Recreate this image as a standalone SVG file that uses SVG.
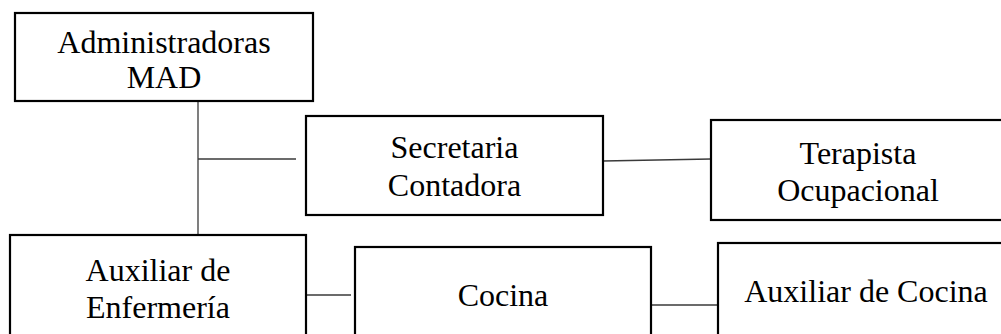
<svg xmlns="http://www.w3.org/2000/svg" width="1001" height="334" viewBox="0 0 1001 334">
<style>
.box{fill:#fff;stroke:#000;stroke-width:2.2}
.t{font-family:"Liberation Serif","Times New Roman",serif;font-size:32px;fill:#000;text-anchor:middle}
.c{stroke:#3a3a3a;stroke-width:1.3;fill:none}
</style>
<rect width="1001" height="334" fill="#fff"/>
<g id="connectors">
<line class="c" x1="198" y1="101" x2="198" y2="235"/>
<line class="c" x1="198" y1="159" x2="296" y2="159"/>
<line class="c" x1="603" y1="161" x2="711" y2="159"/>
<line class="c" x1="306" y1="295" x2="351" y2="295"/>
<line class="c" x1="651" y1="305" x2="717" y2="305"/>
</g>
<g id="admin">
<rect class="box" x="15" y="13" width="298" height="88"/>
<text class="t" x="164" y="53">Administradoras</text>
<text class="t" x="164" y="88">MAD</text>
</g>
<g id="secretaria">
<rect class="box" x="306" y="116" width="297" height="99"/>
<text class="t" x="454.5" y="158">Secretaria</text>
<text class="t" x="454.5" y="196">Contadora</text>
</g>
<g id="terapista">
<rect class="box" x="711" y="120" width="300" height="100"/>
<text class="t" x="858" y="164">Terapista</text>
<text class="t" x="858" y="201">Ocupacional</text>
</g>
<g id="aux-enfermeria">
<rect class="box" x="10" y="235" width="296" height="110"/>
<text class="t" x="158" y="281">Auxiliar de</text>
<text class="t" x="158" y="318">Enfermería</text>
</g>
<g id="cocina">
<rect class="box" x="355" y="247" width="296" height="100"/>
<text class="t" x="503" y="306">Cocina</text>
</g>
<g id="aux-cocina">
<rect class="box" x="718" y="243" width="300" height="100"/>
<text class="t" x="866" y="302">Auxiliar de Cocina</text>
</g>
</svg>
